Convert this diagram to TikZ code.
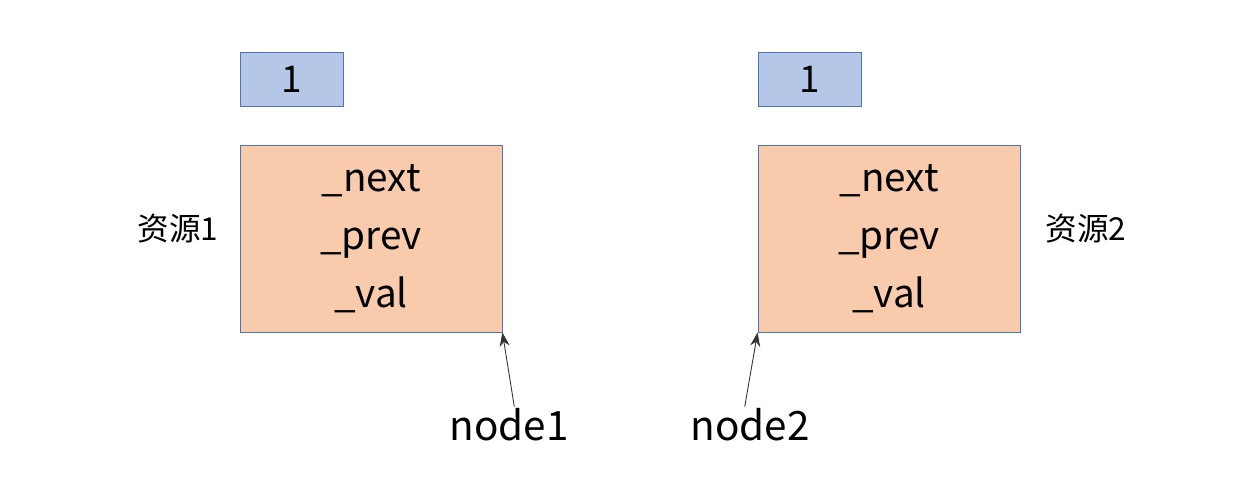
\documentclass[tikz,border=0pt]{standalone}
\usepackage{fontspec}
\setmainfont{Noto Sans CJK SC}
\usepackage{xcolor}
\usetikzlibrary{positioning,arrows.meta}

\definecolor{cntfill}{HTML}{B4C7E7}
\definecolor{objfill}{HTML}{F8CBAD}
\definecolor{edge}{HTML}{4F72B8}

\begin{document}
\begin{tikzpicture}[x=0.02cm, y=-0.02cm,
  cnt/.style={rectangle, draw=edge, fill=cntfill, line width=0.5pt,
              minimum width=2.06cm, minimum height=1.08cm, inner sep=0pt,
              font=\fontsize{21}{24}\selectfont},
  obj/.style={rectangle, draw=edge, fill=objfill, line width=0.5pt,
              minimum width=5.24cm, minimum height=3.74cm, inner sep=0pt,
              align=center, font=\fontsize{22}{33}\selectfont},
  tag/.style={font=\fontsize{18}{20}\selectfont, inner sep=1pt},
  lbl/.style={font=\fontsize{23}{27}\selectfont, inner sep=1pt},
  ptr/.style={-{Stealth[length=2.8mm, width=2mm]}, line width=0.5pt, black!80}]
  \useasboundingbox (0,0) rectangle (1250,488);
  \node[cnt] (cnt1) at (291.5,79) {1};
  \node[cnt] (cnt2) at (809.5,79) {1};
  \node[obj] (obj1) at (371,238.5) {\_next\\\_prev\\\_val};
  \node[obj] (obj2) at (889,238.5) {\_next\\\_prev\\\_val};
  \node[tag] (res1) at (178,229) {资源1};
  \node[tag] (res2) at (1086,229) {资源2};
  \node[lbl] (lbl1) at (509,425) {node1};
  \node[lbl] (lbl2) at (750,425) {node2};
  \draw[ptr] ([xshift=3pt]lbl1.north) -- (obj1.south east);
  \draw[ptr] ([xshift=-3pt]lbl2.north) -- (obj2.south west);
\end{tikzpicture}
\end{document}
